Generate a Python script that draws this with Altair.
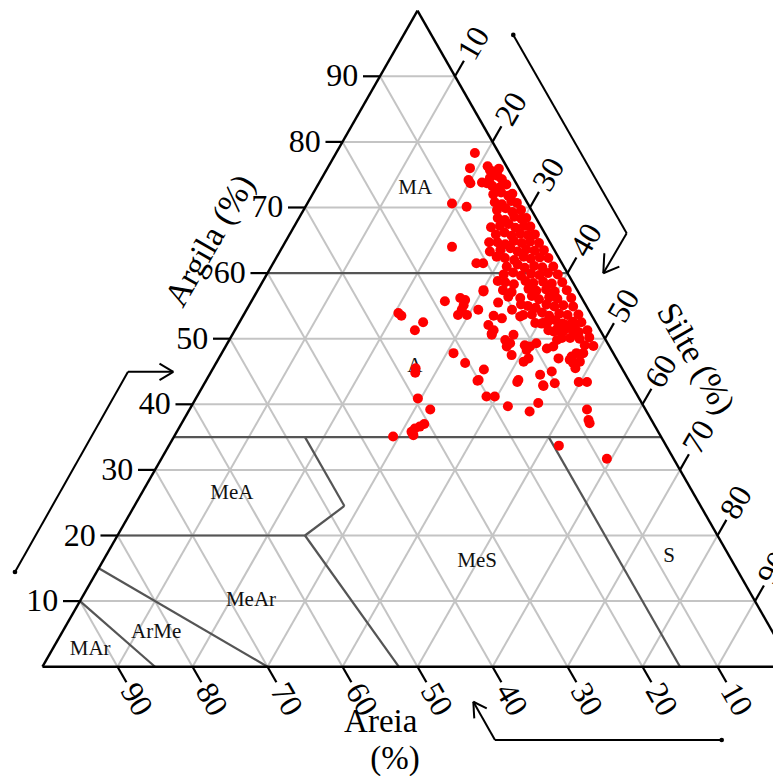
import altair as alt
import pandas as pd

# ---------------- data ----------------
# samples: clay (%) and silt (%)  (sand = 100 - clay - silt)
clay = [40.9, 39.2, 36.3, 36.6, 37.0, 35.3, 35.8, 35.1, 41.2, 41.2, 39.7, 38.9, 40.2, 39.2, 37.6, 37.1,
        33.7, 31.7, 43.6, 43.4, 42.8, 43.4, 43.4, 53.9, 53.5, 51.3, 52.5, 45.5, 44.8, 55.7, 56.2, 55.1,
        55.9, 53.6, 53.6, 54.4, 57.2, 55.5, 53.5, 52.1, 50.8, 47.8, 46.3, 45.3, 43.7, 49.8, 48.8, 56.4,
        51.3, 50.6, 50.6, 49.3, 49.0, 48.8, 49.3, 48.3, 47.5, 46.5, 47.0, 52.3, 52.6, 51.1, 51.3, 50.1,
        49.8, 52.1, 51.8, 50.8, 50.1, 47.0, 47.3, 47.8, 47.8, 46.5, 46.3, 45.5, 46.8, 45.0, 44.5, 43.7,
        42.9, 78.3, 76.0, 74.2, 73.7, 70.6, 70.1, 73.8, 73.7, 75.7, 75.5, 64.0, 61.5, 61.5, 57.4, 54.4,
        48.5, 48.8, 43.2, 53.1, 54.4, 53.4,
        75.9, 76.3, 74.5, 74.8, 74.3, 73.3, 73.0, 73.5, 72.0, 72.3, 71.8, 72.1, 70.8, 70.5, 71.0, 70.7,
        69.6, 69.9, 69.3, 69.6, 68.4, 68.1, 68.6, 68.3, 68.4, 67.2, 67.5, 66.9, 67.2, 67.1,
        65.9, 66.2, 65.7, 66.0, 65.8, 65.9, 64.7, 64.4, 64.9, 64.6, 64.8, 64.6,
        63.5, 63.8, 63.3, 63.6, 63.4, 63.5, 62.3, 62.0, 62.5, 62.2, 62.4, 62.3,
        61.0, 61.3, 60.8, 61.1, 60.9, 61.0, 59.8, 60.1, 59.6, 59.9, 59.7, 60.0, 59.8,
        58.6, 58.3, 58.8, 58.5, 58.7, 58.4, 58.6, 57.4, 57.1, 57.6, 57.3, 57.5, 57.2, 57.4,
        56.2, 56.5, 56.0, 56.3, 56.1, 56.2, 55.0, 54.7, 55.2, 54.9, 55.1, 54.9,
        53.7, 54.0, 53.5, 53.8, 53.6, 53.7, 52.5, 52.8, 52.3, 52.6, 52.5, 51.3, 51.0, 51.3,
        67.0, 64.7, 62.5, 63.3, 58.8, 55.2, 53.6, 52.4, 51.3, 51.5, 51.2, 50.0, 50.2, 49.0, 48.9]
silt = [29.6, 32.1, 31.5, 32.0, 32.4, 31.8, 31.3, 29.2, 38.6, 39.7, 42.2, 45.5, 46.0, 53.0, 54.0, 54.4,
        52.0, 59.4, 36.2, 41.6, 45.4, 49.8, 50.9, 20.5, 21.1, 24.0, 24.5, 27.0, 27.3, 25.8, 27.6, 28.6,
        28.4, 28.6, 29.8, 28.7, 30.2, 33.0, 33.4, 33.4, 34.5, 30.9, 33.2, 36.2, 36.3, 36.8, 37.5, 33.9,
        34.5, 34.6, 37.5, 37.7, 39.8, 40.6, 41.2, 40.4, 38.8, 40.9, 41.3, 40.4, 41.1, 42.6, 43.1, 44.2,
        43.7, 43.8, 45.1, 45.8, 45.3, 45.3, 46.9, 47.3, 48.2, 48.4, 47.6, 48.3, 46.9, 45.4, 44.1, 41.6,
        45.3, 18.5, 19.0, 19.7, 20.2, 19.3, 21.5, 21.7, 22.4, 21.8, 22.6, 22.6, 27.1, 28.0, 30.1, 30.9,
        43.0, 43.7, 46.7, 34.7, 35.4, 37.0,
        22.9, 21.2, 22.4, 23.3, 24.1, 23.3, 24.4, 25.1, 24.1, 25.0, 26.2, 26.6, 24.9, 26.0, 27.0, 27.9,
        25.8, 26.8, 28.0, 29.0, 26.5, 27.6, 28.6, 29.7, 30.3, 27.4, 28.4, 29.6, 30.6, 31.5,
        27.5, 28.5, 29.7, 30.7, 31.8, 32.7, 28.3, 29.5, 30.4, 31.6, 32.6, 33.9,
        29.3, 30.5, 31.7, 32.7, 33.9, 35.1, 30.5, 31.9, 32.9, 34.0, 35.1, 36.3,
        31.4, 32.7, 33.9, 35.0, 36.2, 37.6, 31.6, 32.7, 34.0, 35.2, 36.4, 37.4, 38.8,
        32.4, 33.7, 35.0, 36.2, 37.4, 38.7, 40.0, 32.7, 34.0, 36.0, 37.2, 38.4, 39.7, 41.2,
        35.6, 37.0, 38.2, 39.4, 40.6, 42.4, 37.2, 38.4, 39.6, 40.8, 41.9, 43.3,
        38.4, 39.6, 40.8, 42.0, 43.2, 44.6, 40.7, 42.0, 43.2, 44.4, 45.6, 45.0, 46.0, 47.0,
        26.3, 27.2, 29.3, 28.0, 31.3, 36.2, 37.3, 39.5, 41.8, 42.9, 43.9, 46.6, 47.8, 47.8, 49.0]

grid_values = [10, 20, 30, 40, 50, 60, 70, 80, 90]
tick_labels = ["10", "20", "30", "40", "50", "60", "70", "80", "90"]

# texture classes and label anchors (clay %, silt %)
class_names = ["MA", "A", "MeA", "MeAr", "ArMe", "MAr", "MeS", "S"]
class_clay = [73.0, 45.8, 26.5, 10.2, 5.3, 2.7, 16.1, 16.9]
class_silt = [13.2, 26.75, 12.0, 22.7, 12.5, 5.0, 49.9, 75.1]

# class boundary polylines as (clay, silt) vertices
boundaries = [
    [(60, 0), (60, 40)],
    [(35, 0), (35, 65)],
    [(20, 0), (20, 25)],
    [(35, 17.5), (24.5, 28), (20, 25), (0, 47.5)],
    [(35, 50), (0, 85)],
    [(15, 0), (0, 30)],
    [(10, 0), (0, 15)],
]

axis_titles = ["Argila (%)", "Silte (%)", "Areia", "(%)"]

# ---------------- helpers ----------------
def tern(c, s):
    """project (clay, silt) to the plane: x = silt + clay/2, y = clay"""
    return s + c / 2.0, c

xs = alt.Scale(domain=[-4.6, 97.4], nice=False, zero=False)
ys = alt.Scale(domain=[-16.66, 100.41], nice=False, zero=False)
FONT = "Liberation Serif"


def seg_layer(rows, color, width, clip=False):
    df = pd.DataFrame(rows, columns=["x", "y", "x2", "y2"])
    return alt.Chart(df).mark_rule(color=color, strokeWidth=width, clip=clip).encode(
        x=alt.X("x:Q", scale=xs, axis=None),
        y=alt.Y("y:Q", scale=ys, axis=None),
        x2="x2:Q",
        y2="y2:Q",
    )


def text_layer(rows, **kw):
    df = pd.DataFrame(rows, columns=["x", "y", "t"])
    return alt.Chart(df).mark_text(font=FONT, **kw).encode(
        x=alt.X("x:Q", scale=xs, axis=None),
        y=alt.Y("y:Q", scale=ys, axis=None),
        text="t:N",
    )

# grid
grid_rows = []
for v in grid_values:
    a = tern(v, 0); b = tern(v, 100 - v)
    grid_rows.append([a[0], a[1], b[0], b[1]])
    a = tern(0, v); b = tern(100 - v, v)
    grid_rows.append([a[0], a[1], b[0], b[1]])
    a = tern(0, 100 - v); b = tern(100 - v, 0)
    grid_rows.append([a[0], a[1], b[0], b[1]])
grid = seg_layer(grid_rows, "#c4c4c4", 2)

# class boundaries
bnd_rows = []
for line in boundaries:
    for p, q in zip(line[:-1], line[1:]):
        a = tern(*p); b = tern(*q)
        bnd_rows.append([a[0], a[1], b[0], b[1]])
bnd = seg_layer(bnd_rows, "#555555", 2.2)

# triangle frame
A = tern(0, 0); B = tern(100, 0); C = tern(0, 100)
frame = seg_layer([[A[0], A[1], B[0], B[1]], [B[0], B[1], C[0], C[1]], [A[0], A[1], C[0], C[1]]],
                  "black", 2.4, clip=True)

# ticks and tick labels
tick_rows, left_lab, right_lab, bottom_lab = [], [], [], []
for v, lab in zip(grid_values, tick_labels):
    p = tern(v, 0)
    tick_rows.append([p[0], p[1], p[0] - 2.27, p[1]])
    left_lab.append([p[0] - 2.9, p[1], lab])
    p = tern(100 - v, v)
    tick_rows.append([p[0], p[1], p[0] + 1.19, p[1] + 2.38])
    right_lab.append([p[0] + 1.45, p[1] + 2.9, lab])
    p = tern(0, 100 - v)
    tick_rows.append([p[0], p[1], p[0] + 1.19, p[1] - 2.38])
    bottom_lab.append([p[0] + 1.45, p[1] - 2.9, lab])
ticks = seg_layer(tick_rows, "black", 2.2, clip=False)
lab_left = text_layer(left_lab, align="right", baseline="middle", fontSize=32, color="black")
lab_right = text_layer(right_lab, align="left", baseline="middle", fontSize=32, angle=300, color="black")
lab_bottom = text_layer(bottom_lab, align="left", baseline="middle", fontSize=32, angle=60, color="black")

# axis titles
t_left = text_layer([[22.4, 64.9, axis_titles[0]]], align="center", baseline="middle", fontSize=34, angle=300)
t_right = text_layer([[87.0, 46.9, axis_titles[1]]], align="center", baseline="middle", fontSize=34, angle=60)
t_bottom = text_layer([[45.1, -9.9, axis_titles[2]], [47.0, -15.6, axis_titles[3]]],
                      align="center", baseline="alphabetic", fontSize=33)

# class labels
cls_rows = []
for n, c, s in zip(class_names, class_clay, class_silt):
    x, y = tern(c, s)
    cls_rows.append([x, y, n])
cls = text_layer(cls_rows, align="center", baseline="middle", fontSize=21, color="#111111")

# direction arrows (projected plane)
arrow_paths = [
    [(-3.67, 14.44), (11.4, 44.95), (17.44, 44.95)],
    [(62.77, 96.3), (77.89, 66.07), (74.77, 59.97)],
    [(90.56, -11.17), (60.33, -11.17), (57.44, -5.34)],
]
arrow_wings = [
    [(15.6, 46.2), (15.6, 43.7)],
    [(74.91, 63.02), (76.91, 60.98)],
    [(57.57, -7.87), (59.23, -6.34)],
]
arr_rows = []
dots = []
for path, wings in zip(arrow_paths, arrow_wings):
    for p, q in zip(path[:-1], path[1:]):
        arr_rows.append([p[0], p[1], q[0], q[1]])
    tip = path[-1]
    for w in wings:
        arr_rows.append([tip[0], tip[1], w[0], w[1]])
    dots.append(path[0])
arrows = seg_layer(arr_rows, "black", 2)
dot_df = pd.DataFrame(dots, columns=["x", "y"])
arrow_dots = alt.Chart(dot_df).mark_circle(size=22, color="black", opacity=1).encode(
    x=alt.X("x:Q", scale=xs, axis=None), y=alt.Y("y:Q", scale=ys, axis=None))

# samples
pts = pd.DataFrame({"clay": clay, "silt": silt})
pts["sand"] = 100 - pts["clay"] - pts["silt"]
pts["x"] = pts["silt"] + pts["clay"] / 2.0
pts["y"] = pts["clay"]
points = alt.Chart(pts).mark_circle(size=100, color="#ff0000", opacity=1).encode(
    x=alt.X("x:Q", scale=xs, axis=None), y=alt.Y("y:Q", scale=ys, axis=None))

chart = alt.layer(
    grid, bnd, frame, ticks, lab_left, lab_right, lab_bottom,
    t_left, t_right, t_bottom, cls, arrows, arrow_dots, points
).properties(
    width=765, height=768, padding=0,
    autosize=alt.AutoSizeParams(type="none"), background="white"
).configure_view(stroke=None)

chart.save("out.html", embed_options={"renderer": "svg", "actions": False})
